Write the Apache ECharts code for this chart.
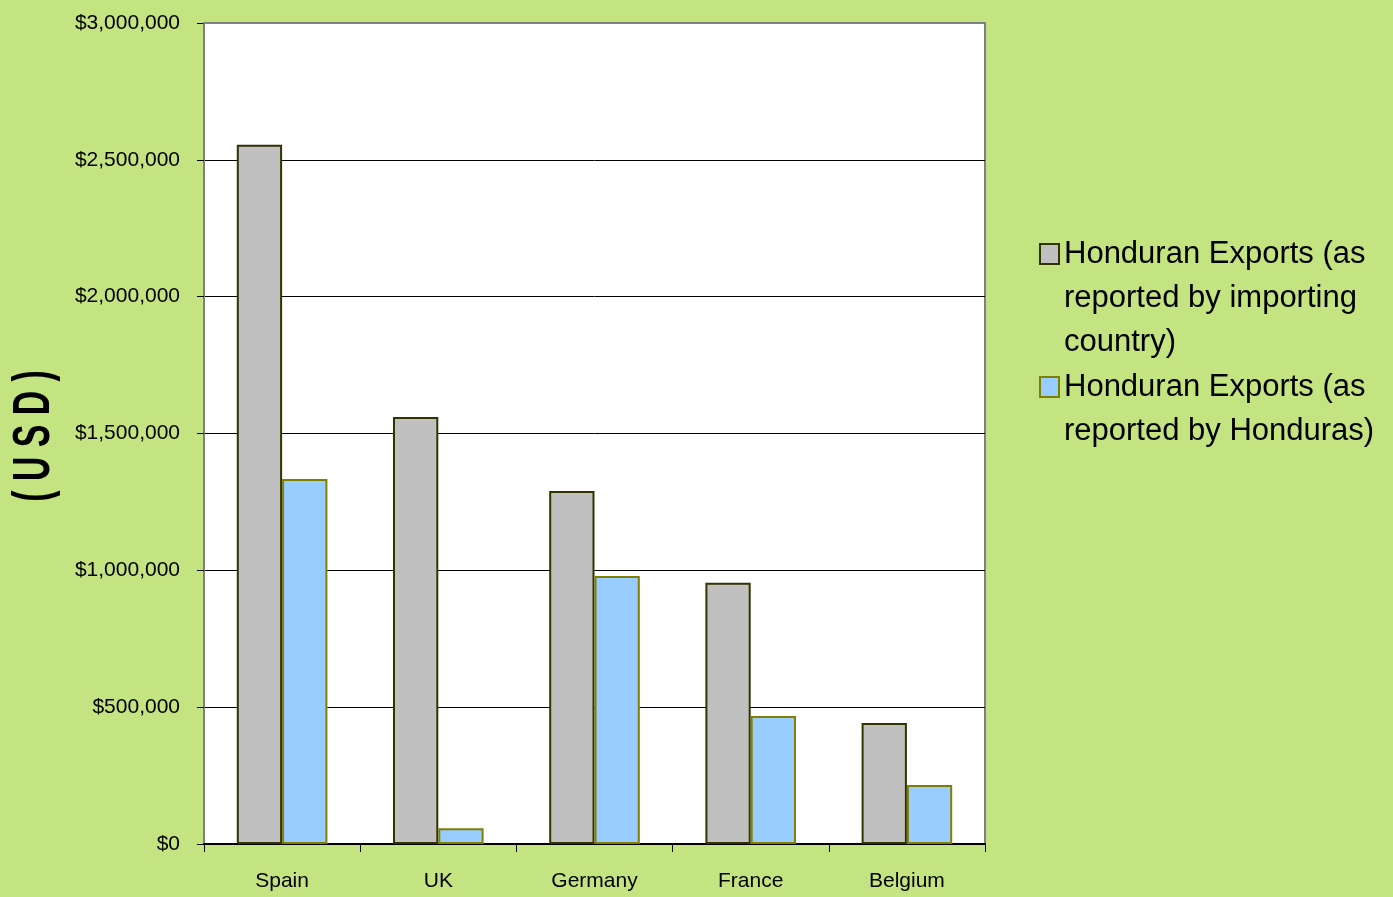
<!DOCTYPE html>
<html>
<head>
<meta charset="utf-8">
<script src="https://cdn.jsdelivr.net/npm/echarts@6/dist/echarts.min.js"></script>
<style>
html,body{margin:0;padding:0;}
#chart{width:1393px;height:897px;}
</style>
</head>
<body>
<div id="chart"></div>
<script>
const categories = ['Spain', 'UK', 'Germany', 'France', 'Belgium'];
const importerReported = [2555000, 1560000, 1290000, 955000, 442000];
const hondurasReported = [1334000, 58000, 979000, 468000, 216000];
const seriesNames = [
  'Honduran Exports (as\nreported by importing\ncountry)',
  'Honduran Exports (as\nreported by Honduras)'
];
const yTicks = [0, 500000, 1000000, 1500000, 2000000, 2500000, 3000000];
const yTitle = '( U S D )';

const FONT = '"Liberation Sans", Arial, sans-serif';
const chart = echarts.init(document.getElementById('chart'));

// pad with blank lines above so the icon sits beside the first text line
function topAligned(name) {
  const n = name.split('\n').length;
  return '\n'.repeat(n - 1) + name;
}

const legendCommon = {
  orient: 'vertical', left: 1039, padding: 0,
  icon: 'rect', itemWidth: 19, itemHeight: 20, itemGap: 0,
  textStyle: { fontFamily: FONT, fontSize: 31, lineHeight: 44, color: '#000' },
  formatter: topAligned,
  selectedMode: false
};

chart.setOption({
  backgroundColor: '#c4e381',
  animation: false,
  grid: {
    left: 204, right: 408, top: 23, bottom: 53,
    containLabel: false,
    show: true, backgroundColor: '#ffffff',
    borderColor: '#808080', borderWidth: 2
  },
  legend: [
    Object.assign({}, legendCommon, { data: [seriesNames[0]], top: 144 }),
    Object.assign({}, legendCommon, { data: [seriesNames[1]], top: 321 })
  ],
  xAxis: [
    {
      type: 'category', data: categories,
      axisLine: { lineStyle: { color: '#000', width: 2 } },
      axisTick: { show: true, length: 8, lineStyle: { color: '#000' } },
      axisLabel: { fontFamily: FONT, fontSize: 21, color: '#000', margin: 27 }
    },
    {
      type: 'category', data: categories, position: 'top', z: 5,
      axisLine: { lineStyle: { color: '#808080', width: 2 } },
      axisTick: { show: false }, axisLabel: { show: false }
    }
  ],
  yAxis: {
    type: 'value', min: yTicks[0], max: yTicks[yTicks.length - 1], interval: yTicks[1] - yTicks[0],
    axisLine: { show: true, lineStyle: { color: '#808080', width: 2 } },
    axisTick: { show: true, length: 7, lineStyle: { color: '#000' } },
    axisLabel: {
      fontFamily: FONT, fontSize: 21, color: '#000', margin: 24,
      formatter: v => '$' + v.toLocaleString('en-US')
    },
    splitLine: { lineStyle: { color: '#000', width: 1 } }
  },
  graphic: [{
    type: 'text', x: 35, y: 436, rotation: Math.PI / 2, scaleX: 0.65,
    style: {
      text: yTitle, font: 'bold 52px ' + FONT, fill: '#000',
      align: 'center', verticalAlign: 'middle'
    }
  }],
  series: [
    {
      name: seriesNames[0], type: 'bar', data: importerReported,
      barGap: '0%', barCategoryGap: '42%',
      itemStyle: { color: '#c0c0c0', borderColor: '#333300', borderWidth: 2 }
    },
    {
      name: seriesNames[1], type: 'bar', data: hondurasReported,
      barGap: '0%', barCategoryGap: '42%',
      itemStyle: { color: '#99ccff', borderColor: '#808000', borderWidth: 2 }
    }
  ]
});
</script>
</body>
</html>
